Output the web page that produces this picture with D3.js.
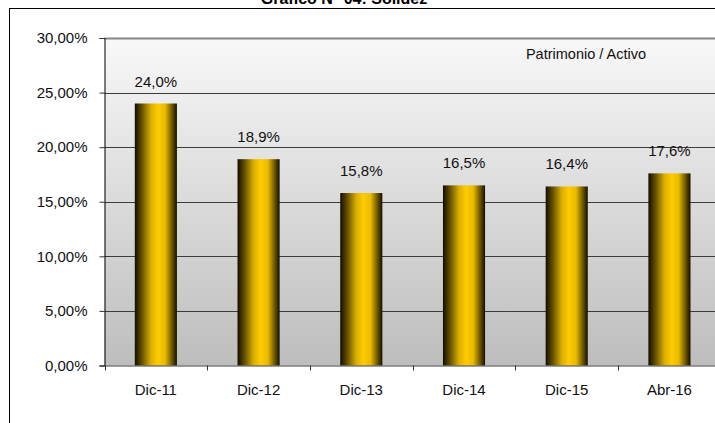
<!DOCTYPE html>
<html>
<head>
<meta charset="utf-8">
<script src="https://cdn.jsdelivr.net/npm/d3@7"></script>
<style>
  body { margin: 0; background: #fff; }
  svg { display: block; font-family: "Liberation Sans", Arial, sans-serif; }
</style>
</head>
<body>
<svg id="chart" width="715" height="423"></svg>
<script>
// data
var categories = ["Dic-11", "Dic-12", "Dic-13", "Dic-14", "Dic-15", "Abr-16"];
var values = [24.0, 18.9, 15.8, 16.5, 16.4, 17.6];
var yTicks = [0, 5, 10, 15, 20, 25, 30];
var seriesName = "Patrimonio / Activo";
var title = "Gráfico N° 04: Solidez";

var svg = d3.select("#chart");
var esLocale = d3.formatLocale({decimal: ",", thousands: ".", grouping: [3], currency: ["", ""]});
var fmtTick = esLocale.format(".2f"), fmtVal = esLocale.format(".1f");

// plot box (the original chart is cut at the right edge)
var pLeft = 104.5, pRight = 720.8, pTop = 38, pBottom = 365.5;

var x = d3.scaleBand().domain(categories).range([pLeft, pRight]).padding(0);
var y = d3.scaleLinear().domain([0, 30]).range([pBottom, pTop]);

var defs = svg.append("defs");
var bg = defs.append("linearGradient").attr("id", "bg").attr("x1", 0).attr("x2", 0).attr("y1", 0).attr("y2", 1);
bg.append("stop").attr("offset", "0%").attr("stop-color", "#f8f8f8");
bg.append("stop").attr("offset", "100%").attr("stop-color", "#bdbdbd");

var gold = defs.append("linearGradient").attr("id", "gold").attr("x1", 0).attr("x2", 1).attr("y1", 0).attr("y2", 0);
[[0, "#120d00"], [0.18, "#6b5500"], [0.38, "#d9ae00"], [0.55, "#ffcc00"], [0.72, "#e8ba00"], [0.88, "#6e5800"], [1, "#140f00"]]
  .forEach(function(s) { gold.append("stop").attr("offset", s[0]).attr("stop-color", s[1]); });

// outer frame (left + top visible)
svg.append("line").attr("x1", 9.5).attr("x2", 9.5).attr("y1", 8).attr("y2", 423).attr("stroke", "#000");
svg.append("line").attr("x1", 9).attr("x2", 715).attr("y1", 8.5).attr("y2", 8.5).attr("stroke", "#000");

// title, cut at the top of the picture
svg.append("text").attr("x", 344).attr("y", 4).attr("text-anchor", "middle")
  .attr("font-size", 16).attr("font-weight", "bold").text(title);

// plot background
svg.append("rect").attr("x", pLeft).attr("y", pTop).attr("width", pRight - pLeft).attr("height", pBottom - pTop)
  .attr("fill", "url(#bg)");

// gridlines
svg.append("g").selectAll("line").data(yTicks.filter(function(d) { return d > 0; })).join("line")
  .attr("x1", pLeft).attr("x2", pRight)
  .attr("y1", function(d) { return Math.round(y(d)) + 0.5; })
  .attr("y2", function(d) { return Math.round(y(d)) + 0.5; })
  .attr("stroke", function(d) { return d == 30 ? "#858585" : "#3c3c3c"; })
  .attr("stroke-width", function(d) { return d == 30 ? 2 : 1; });

// bars
var bw = x.bandwidth() * 0.41;
svg.append("g").selectAll("rect").data(values).join("rect")
  .attr("x", function(d, i) { return x(categories[i]) + (x.bandwidth() - bw) / 2; })
  .attr("y", function(d) { return y(d); })
  .attr("width", bw)
  .attr("height", function(d) { return y(0) - y(d); })
  .attr("fill", "url(#gold)");

// value labels
svg.append("g").selectAll("text").data(values).join("text")
  .attr("x", function(d, i) { return x(categories[i]) + x.bandwidth() / 2; })
  .attr("y", function(d) { return y(d) - 17; })
  .attr("text-anchor", "middle").attr("font-size", 15).attr("fill", "#111")
  .text(function(d) { return fmtVal(d) + "%"; });

// y axis
var yAxis = svg.append("g").attr("transform", "translate(" + pLeft + ",0)")
  .call(d3.axisLeft(y).tickValues(yTicks).tickSize(5).tickPadding(12)
    .tickFormat(function(d) { return fmtTick(d) + "%"; }));
yAxis.select(".domain").attr("stroke", "#000");
yAxis.selectAll(".tick line").attr("stroke", "#333");
yAxis.selectAll("text").attr("font-size", 15).attr("fill", "#111").attr("font-family", null);

// x axis
svg.append("line").attr("x1", pLeft).attr("x2", pRight).attr("y1", pBottom + 0.5).attr("y2", pBottom + 0.5).attr("stroke", "#3c3c3c");
svg.append("g").selectAll("line").data(categories).join("line")
  .attr("x1", function(d) { return Math.round(x(d)) + 0.5; })
  .attr("x2", function(d) { return Math.round(x(d)) + 0.5; })
  .attr("y1", pBottom).attr("y2", pBottom + 5).attr("stroke", "#333");
svg.append("g").selectAll("text").data(categories).join("text")
  .attr("x", function(d) { return x(d) + x.bandwidth() / 2; })
  .attr("y", 395).attr("text-anchor", "middle").attr("font-size", 15).attr("fill", "#111")
  .text(function(d) { return d; });

// series label
svg.append("text").attr("x", 586).attr("y", 59).attr("text-anchor", "middle")
  .attr("font-size", 14.5).attr("fill", "#111").text(seriesName);
</script>
</body>
</html>
